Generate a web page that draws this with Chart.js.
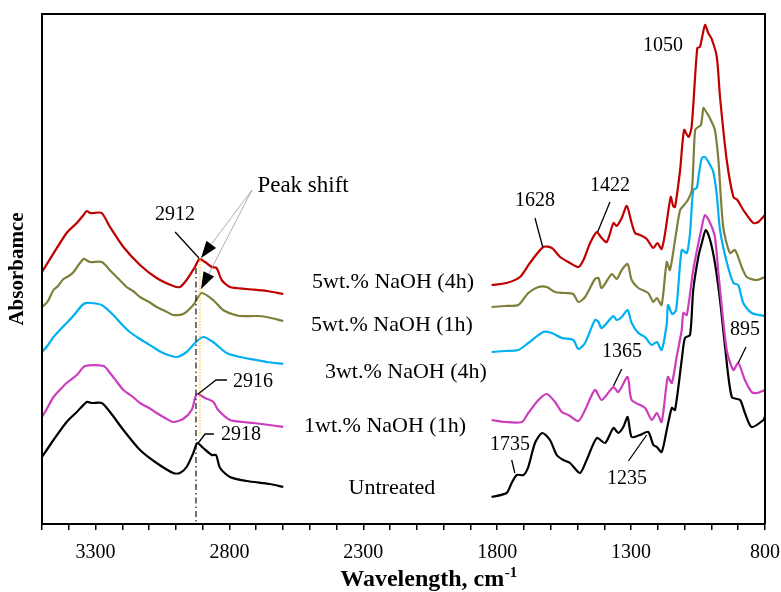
<!DOCTYPE html>
<html>
<head>
<meta charset="utf-8">
<script src="https://cdn.jsdelivr.net/npm/chart.js@4.4.1/dist/chart.umd.min.js"></script>
<style>
  html, body { margin: 0; padding: 0; background: #ffffff; }
  canvas { display: block; }
</style>
</head>
<body>
<canvas id="ftir" width="781" height="592"></canvas>
<script>
// FTIR spectra of fibres, stacked with a vertical offset (arbitrary absorbance units).
// Each spectrum: [wavenumber (cm-1), offset absorbance]; the 2600-1830 cm-1 band is not shown.

const sampleNames = ['5wt.% NaOH (4h)', '5wt.% NaOH (1h)', '3wt.% NaOH (4h)', '1wt.% NaOH (1h)', 'Untreated'];

const naoh5h4High = [[3500,252],[3408,291],[3370,301],[3345,309],[3333,313],[3320,311],[3308,311],[3277,311],[3246,297],[3196,277],[3134,259],[3072,246],[3010,238],[2985,237],[2960,244],[2929,257],[2912,265],[2891,262],[2866,257],[2848,256],[2829,244],[2798,237],[2736,235],[2661,233],[2599,230]];
const naoh5h4Low = [[1821,239],[1765,241],[1715,247],[1678,261],[1628,277],[1596,276],[1565,267],[1528,261],[1497,257],[1478,264],[1453,281],[1428,292],[1413,287],[1391,282],[1366,301],[1354,298],[1335,306],[1316,318],[1298,301],[1285,291],[1267,289],[1242,285],[1217,276],[1202,281],[1186,275],[1173,291],[1152,327],[1143,318],[1136,317],[1117,354],[1102,394],[1086,387],[1074,397],[1053,476],[1043,477],[1024,499],[1012,491],[999,485],[980,467],[968,427],[943,364],[918,327],[903,324],[881,314],[844,301],[825,302],[800,309]];

const naoh5h1High = [[3500,217],[3480,222],[3457,234],[3440,238],[3420,245],[3400,248],[3382,252],[3345,265],[3321,262],[3277,262],[3240,252],[3210,244],[3184,237],[3160,233],[3134,227],[3100,222],[3072,217],[3040,213],[3010,209],[2973,210],[2935,219],[2904,231],[2861,224],[2824,214],[2790,210],[2761,208],[2700,208],[2661,207],[2599,203]];
const naoh5h1Low = [[1821,217],[1771,218],[1721,219],[1684,231],[1646,237],[1615,237],[1584,232],[1547,231],[1516,230],[1497,222],[1472,227],[1435,245],[1422,246],[1410,236],[1372,250],[1354,245],[1335,254],[1313,260],[1298,244],[1273,236],[1236,231],[1217,222],[1204,226],[1186,219],[1167,262],[1155,254],[1136,284],[1117,314],[1102,319],[1088,324],[1073,334],[1061,394],[1049,397],[1039,399],[1030,416],[1024,414],[1012,409],[999,402],[987,394],[974,364],[956,297],[931,271],[912,274],[887,257],[868,247],[831,244],[800,247]];

const naoh3h4High = [[3500,172],[3480,178],[3457,187],[3430,195],[3408,201],[3380,209],[3345,220],[3321,221],[3277,219],[3234,209],[3200,199],[3172,192],[3140,186],[3110,181],[3080,176],[3048,171],[2998,167],[2960,172],[2929,181],[2898,187],[2861,182],[2811,171],[2761,167],[2700,164],[2661,162],[2599,160]];
const naoh3h4Low = [[1821,172],[1771,173],[1721,174],[1684,181],[1628,192],[1596,191],[1559,186],[1516,184],[1497,175],[1472,181],[1435,204],[1422,202],[1410,196],[1366,208],[1354,204],[1335,207],[1313,214],[1298,201],[1273,191],[1248,187],[1223,179],[1204,182],[1186,174],[1167,200],[1162,219],[1147,210],[1132,214],[1111,274],[1092,271],[1080,291],[1068,334],[1055,336],[1049,346],[1036,366],[1024,367],[1005,359],[993,352],[980,329],[968,294],[943,262],[918,241],[900,239],[881,221],[850,211],[800,208]];

const naoh1h1High = [[3500,107],[3480,116],[3457,127],[3430,135],[3408,141],[3370,149],[3339,158],[3270,158],[3246,151],[3220,142],[3196,134],[3160,127],[3134,121],[3100,116],[3072,111],[3040,106],[3010,102],[2973,105],[2941,114],[2922,130],[2891,126],[2860,122],[2842,114],[2798,104],[2750,102],[2711,101],[2650,99],[2599,97]];
const naoh1h1Low = [[1821,104],[1771,102],[1708,102],[1684,111],[1646,124],[1615,130],[1584,122],[1559,112],[1534,109],[1497,103],[1472,114],[1435,134],[1410,124],[1366,137],[1348,132],[1313,147],[1298,124],[1248,116],[1223,104],[1204,111],[1186,102],[1163,147],[1148,141],[1130,167],[1111,194],[1105,211],[1092,209],[1068,254],[1036,297],[1024,309],[1005,301],[987,287],[974,251],[943,174],[918,154],[900,161],[875,144],[850,132],[831,131],[800,134]];

const untreatedHigh = [[3500,67],[3457,84],[3408,102],[3370,112],[3333,122],[3314,121],[3277,121],[3246,112],[3196,94],[3134,74],[3072,61],[3010,51],[2985,51],[2960,57],[2935,71],[2920,81],[2898,76],[2866,69],[2850,69],[2835,56],[2798,47],[2736,43],[2649,40],[2599,37]];
const untreatedLow = [[1821,27],[1765,31],[1746,41],[1727,49],[1702,49],[1684,57],[1659,81],[1632,91],[1603,84],[1578,69],[1553,64],[1528,61],[1491,51],[1466,64],[1428,86],[1397,81],[1366,96],[1348,91],[1329,97],[1313,107],[1298,87],[1267,89],[1236,92],[1217,79],[1204,77],[1186,72],[1167,94],[1148,116],[1136,114],[1111,164],[1099,186],[1080,189],[1068,234],[1049,267],[1036,281],[1021,294],[1005,284],[987,261],[968,224],[949,177],[924,127],[893,124],[875,111],[850,97],[806,104],[800,108]];

const seriesColors = ['#C00000', '#7F7F3B', '#00B0F0', '#CC3DBE', '#000000'];

// x axis: reversed wavenumber range, minor ticks every 100, labels every 500
const xMin = 800, xMax = 3500, xStep = 100, xLabelStep = 500;

// peak annotations: label text, label centre, leader polyline (all in data units)
const peakNotes = [
  { text: '2912', at: [3003, 309], leader: [[3003, 292], [2914, 266]] },
  { text: '2916', at: [2712, 142], leader: [[2809, 144], [2850, 144], [2917, 130]] },
  { text: '2918', at: [2757, 89],  leader: [[2858, 90], [2891, 90], [2919, 80]] },
  { text: '1628', at: [1659, 323], leader: [[1659, 306], [1630, 277]] },
  { text: '1422', at: [1379, 338], leader: [[1379, 322], [1425, 292]] },
  { text: '1050', at: [1181, 478], leader: null },
  { text: '1365', at: [1334, 172], leader: [[1335, 155], [1366, 138]] },
  { text: '1735', at: [1752, 79],  leader: [[1746, 64], [1734, 51]] },
  { text: '1235', at: [1315, 45],  leader: [[1310, 63], [1242, 89]] },
  { text: '895',  at: [875, 194],  leader: [[871, 177], [900, 161]] }
];
const sampleLabelPos = [[2189, 242], [2193, 199], [2141, 152], [2219, 98], [2193, 36]];
const peakShiftLabel = { text: 'Peak shift', at: [2525, 338], from: [2716, 334], tips: [[2906, 266], [2906, 235]] };

function toPoints(high, low) {
  const pts = high.map(p => ({ x: p[0], y: p[1] }));
  pts.push({ x: 2200, y: null });             // break between the two spectral windows
  low.forEach(p => pts.push({ x: p[0], y: p[1] }));
  return pts;
}

const spectra = [
  toPoints(naoh5h4High, naoh5h4Low),
  toPoints(naoh5h1High, naoh5h1Low),
  toPoints(naoh3h4High, naoh3h4Low),
  toPoints(naoh1h1High, naoh1h1Low),
  toPoints(untreatedHigh, untreatedLow)
];

const SERIF = "'Liberation Serif', 'Times New Roman', serif";
Chart.defaults.font.family = SERIF;
Chart.defaults.color = '#000';

const overlay = {
  id: 'overlay',
  afterDatasetsDraw(chart) {
    const { ctx, chartArea: a, scales: { x, y } } = chart;
    const P = (d) => [x.getPixelForValue(d[0]), y.getPixelForValue(d[1])];
    ctx.save();

    // frame
    ctx.strokeStyle = '#000';
    ctx.lineWidth = 2;
    ctx.beginPath();
    ctx.moveTo(a.left, a.bottom); ctx.lineTo(a.left, a.top);
    ctx.lineTo(a.right, a.top); ctx.lineTo(a.right, a.bottom);
    ctx.stroke();

    // dash-dot reference line and dotted guide through the C-H peaks
    ctx.lineWidth = 1.1;
    ctx.setLineDash([6, 3, 1.5, 3]);
    let p0 = P([2925, 256]), p1 = P([2925, 0]);
    ctx.beginPath(); ctx.moveTo(p0[0], p0[1]); ctx.lineTo(p1[0], p1[1]); ctx.stroke();
    ctx.strokeStyle = '#FFC000';
    ctx.setLineDash([1.5, 1.5]);
    p0 = P([2910, 266]); p1 = P([2910, 88]);
    ctx.beginPath(); ctx.moveTo(p0[0], p0[1]); ctx.lineTo(p1[0], p1[1]); ctx.stroke();
    ctx.setLineDash([]);

    // peak-shift pointers
    ctx.strokeStyle = '#9a9a9a';
    ctx.lineWidth = 0.8;
    const from = P(peakShiftLabel.from);
    peakShiftLabel.tips.forEach(t => {
      const tip = P(t);
      ctx.beginPath(); ctx.moveTo(from[0], from[1]); ctx.lineTo(tip[0], tip[1]); ctx.stroke();
      const dx = tip[0] - from[0], dy = tip[1] - from[1], L = Math.hypot(dx, dy);
      const ux = dx / L, uy = dy / L, len = 17, hw = 6;
      const bx = tip[0] - ux * len, by = tip[1] - uy * len;
      ctx.fillStyle = '#000';
      ctx.beginPath();
      ctx.moveTo(tip[0], tip[1]);
      ctx.lineTo(bx - uy * hw, by + ux * hw);
      ctx.lineTo(bx + uy * hw, by - ux * hw);
      ctx.closePath(); ctx.fill();
    });

    ctx.fillStyle = '#000';
    ctx.textAlign = 'center';
    ctx.textBaseline = 'middle';
    ctx.font = '23px ' + SERIF;
    const ps = P(peakShiftLabel.at);
    ctx.fillText(peakShiftLabel.text, ps[0], ps[1]);

    // peak labels with leaders
    ctx.strokeStyle = '#000';
    ctx.lineWidth = 1.3;
    ctx.font = '20px ' + SERIF;
    peakNotes.forEach(n => {
      const c = P(n.at);
      ctx.fillText(n.text, c[0], c[1]);
      if (n.leader) {
        ctx.beginPath();
        n.leader.forEach((d, i) => { const q = P(d); i ? ctx.lineTo(q[0], q[1]) : ctx.moveTo(q[0], q[1]); });
        ctx.stroke();
      }
    });

    // sample names
    ctx.font = '22px ' + SERIF;
    sampleNames.forEach((s, i) => {
      const c = P(sampleLabelPos[i]);
      ctx.fillText(s, c[0], c[1]);
    });

    // axis titles
    ctx.font = 'bold 21px ' + SERIF;
    ctx.save();
    ctx.translate(18, (a.top + a.bottom) / 2);
    ctx.rotate(-Math.PI / 2);
    ctx.fillText('Absorbamce', 0, 0);
    ctx.restore();

    const main = 'Wavelength, cm', sup = '-1';
    ctx.font = 'bold 24px ' + SERIF;
    const w1 = ctx.measureText(main).width;
    ctx.font = 'bold 15px ' + SERIF;
    const w2 = ctx.measureText(sup).width;
    const cx = (a.left + a.right) / 2 + 25, ty = 580;
    const sx = cx - (w1 + w2) / 2;
    ctx.textAlign = 'left';
    ctx.font = 'bold 24px ' + SERIF;
    ctx.fillText(main, sx, ty);
    ctx.font = 'bold 15px ' + SERIF;
    ctx.fillText(sup, sx + w1 + 0.5, ty - 7);

    ctx.restore();
  }
};

new Chart(document.getElementById('ftir'), {
  type: 'line',
  data: {
    datasets: spectra.map((pts, i) => ({
      label: sampleNames[i],
      data: pts,
      borderColor: seriesColors[i],
      borderWidth: 2.2,
      pointRadius: 0,
      fill: false,
      spanGaps: false,
      tension: 0.25
    }))
  },
  options: {
    responsive: false,
    animation: false,
    devicePixelRatio: 1,
    layout: { padding: { left: 42, right: 16, top: 14, bottom: 0 } },
    plugins: { legend: { display: false }, tooltip: { enabled: false } },
    scales: {
      x: {
        type: 'linear',
        reverse: true,
        min: xMin,
        max: xMax,
        grid: { display: true, drawOnChartArea: false, drawTicks: true, tickLength: 6, color: '#000', lineWidth: 1.5 },
        border: { display: true, color: '#000', width: 2 },
        ticks: {
          stepSize: xStep,
          autoSkip: false,
          maxRotation: 0,
          padding: 11,
          font: { size: 20, family: SERIF },
          color: '#000',
          callback: (v) => ((v - xMin) % xLabelStep === 0 ? String(v) : '')
        },
        afterFit: (s) => { s.height = 68; s.paddingLeft = 0; s.paddingRight = 0; }
      },
      y: { display: false, min: 0, max: 510 }
    }
  },
  plugins: [overlay]
});
</script>
</body>
</html>
